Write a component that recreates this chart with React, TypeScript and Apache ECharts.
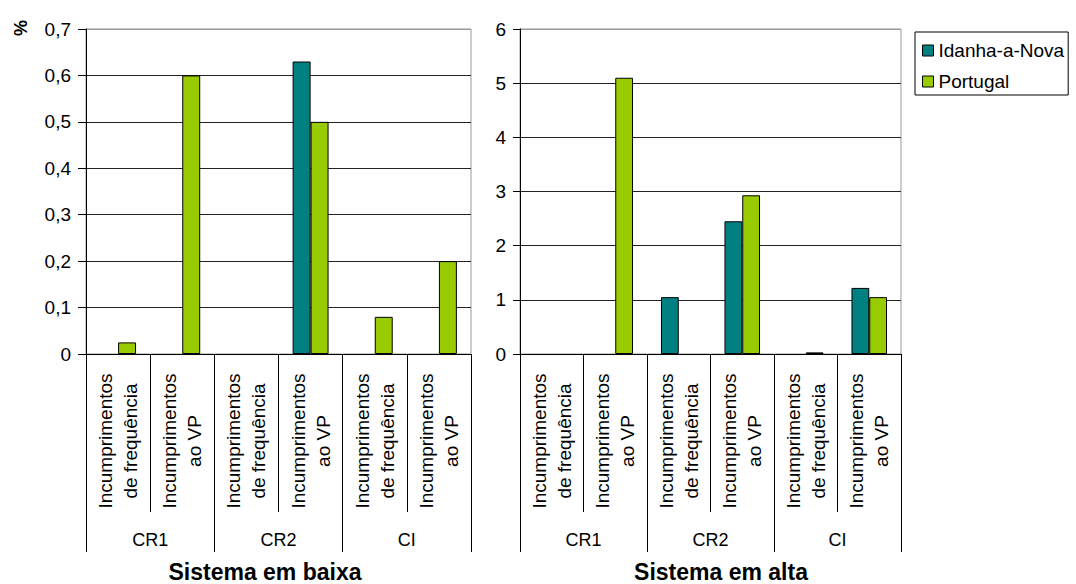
import React, { useEffect, useRef } from "react";
import * as echarts from "echarts";

// Sub-categories within each control group
const groups = ["CR1", "CR2", "CI"];
const measures = ["Incumprimentos\nde frequência", "Incumprimentos\nao VP"];

// Sistema em baixa (%)
const baixaIdanha = [0, 0, 0, 0.63, 0, 0];
const baixaPortugal = [0.025, 0.6, 0, 0.5, 0.08, 0.2];

// Sistema em alta (%)
const altaIdanha = [0, 0, 1.05, 2.45, 0, 1.22];
const altaPortugal = [0, 5.1, 0, 2.93, 0.03, 1.05];

const seriesNames = ["Idanha-a-Nova", "Portugal"];
const seriesColors = ["#008080", "#99CC00"];

const FONT = "Liberation Sans";

export default function App() {
  const ref = useRef<HTMLDivElement>(null);

  useEffect(() => {
    if (!ref.current) return;
    const chart = echarts.init(ref.current, undefined, { renderer: "svg" });
    const categories = groups.flatMap(() => measures);

    const grids = [
      { left: 86, top: 29, width: 385, height: 325 },
      { left: 520, top: 29, width: 381, height: 325 },
    ];

    const xAxes: any[] = [];
    grids.forEach((_, gi) => {
      xAxes.push({
        type: "category",
        gridIndex: gi,
        position: "bottom",
        data: categories,
        axisLine: { show: true, lineStyle: { color: "#000", width: 1 } },
        axisTick: {
          show: true,
          interval: 0,
          length: 158,
          lineStyle: { color: "#000", width: 1 },
        },
        axisLabel: {
          interval: 0,
          rotate: 90,
          align: "center",
          verticalAlign: "middle",
          margin: 87,
          lineHeight: 25,
          fontSize: 19,
          fontFamily: FONT,
          color: "#000",
        },
        splitLine: { show: false },
      });
      xAxes.push({
        type: "category",
        gridIndex: gi,
        position: "bottom",
        offset: 0,
        data: groups,
        axisLine: { show: false },
        axisTick: {
          show: true,
          interval: 0,
          length: 198,
          lineStyle: { color: "#000", width: 1 },
        },
        axisLabel: {
          interval: 0,
          margin: 176,
          lineHeight: 20,
          fontSize: 18,
          fontFamily: FONT,
          color: "#000",
        },
        splitLine: { show: false },
      });
    });

    // Horizontal grid lines: dark, except the top one which blends with the plot border
    const gridLineColors = (n: number) => {
      const arr: string[] = [];
      for (let i = 0; i < n; i++) arr.push(i === n - 1 ? "#999" : "#222");
      return arr;
    };

    const yAxes: any[] = [
      {
        type: "value",
        gridIndex: 0,
        min: 0,
        max: 0.7,
        interval: 0.1,
        axisLine: { show: true, lineStyle: { color: "#000" } },
        axisTick: { show: true, length: 8, lineStyle: { color: "#000" } },
        axisLabel: {
          margin: 15,
          fontSize: 19,
          fontFamily: FONT,
          color: "#000",
          formatter: (v: number) => (v === 0 ? "0" : v.toFixed(1).replace(".", ",")),
        },
        splitLine: { show: true, lineStyle: { color: gridLineColors(8), width: 1 } },
      },
      {
        type: "value",
        gridIndex: 1,
        min: 0,
        max: 6,
        interval: 1,
        axisLine: { show: true, lineStyle: { color: "#000" } },
        axisTick: { show: true, length: 7, lineStyle: { color: "#000" } },
        axisLabel: {
          margin: 14,
          fontSize: 19,
          fontFamily: FONT,
          color: "#000",
        },
        splitLine: { show: true, lineStyle: { color: gridLineColors(7), width: 1 } },
      },
    ];

    // Zero values are left empty so no flat outline is drawn on the axis
    const bar = (name: string, data: number[], xi: number, yi: number, ci: number) => ({
      type: "bar",
      name,
      data: data.map((v) => (v === 0 ? null : v)),
      xAxisIndex: xi,
      yAxisIndex: yi,
      barGap: "0%",
      barCategoryGap: "44%",
      itemStyle: { color: seriesColors[ci], borderColor: "#000", borderWidth: 1 },
    });

    chart.setOption({
      animation: false,
      textStyle: { fontFamily: FONT },
      grid: grids.map((g) => ({
        ...g,
        show: true,
        borderColor: "#999",
        borderWidth: 1,
        backgroundColor: "transparent",
      })),
      xAxis: xAxes,
      yAxis: yAxes,
      legend: {
        data: seriesNames,
        orient: "vertical",
        left: 915,
        top: 32,
        padding: [9, 4, 4, 7],
        itemGap: 12,
        itemWidth: 11,
        itemHeight: 11,
        itemTextGap: 7,
        icon: "rect",
        borderColor: "#000",
        borderWidth: 1,
        backgroundColor: "#fff",
        itemStyle: { borderColor: "#000", borderWidth: 1 },
        textStyle: { fontSize: 19, fontFamily: FONT, color: "#000", lineHeight: 19 },
      },
      series: [
        bar(seriesNames[0], baixaIdanha, 0, 0, 0),
        bar(seriesNames[1], baixaPortugal, 0, 0, 1),
        bar(seriesNames[0], altaIdanha, 2, 1, 0),
        bar(seriesNames[1], altaPortugal, 2, 1, 1),
      ],
      graphic: [
        {
          type: "text",
          x: 21,
          y: 28,
          rotation: Math.PI / 2,
          style: {
            text: "%",
            fontSize: 18,
            fontWeight: "bold",
            fontFamily: FONT,
            fill: "#000",
            align: "center",
            verticalAlign: "middle",
          },
        },
        {
          type: "text",
          x: 265,
          y: 572,
          style: {
            text: "Sistema em baixa",
            fontSize: 23,
            fontWeight: "bold",
            fontFamily: FONT,
            fill: "#000",
            align: "center",
            verticalAlign: "middle",
          },
        },
        {
          type: "text",
          x: 721,
          y: 572,
          style: {
            text: "Sistema em alta",
            fontSize: 23,
            fontWeight: "bold",
            fontFamily: FONT,
            fill: "#000",
            align: "center",
            verticalAlign: "middle",
          },
        },
      ],
    });

    return () => chart.dispose();
  }, []);

  return (
    <div
      ref={ref}
      style={{ position: "absolute", left: 0, top: 0, width: 1076, height: 584, background: "#fff" }}
    />
  );
}
